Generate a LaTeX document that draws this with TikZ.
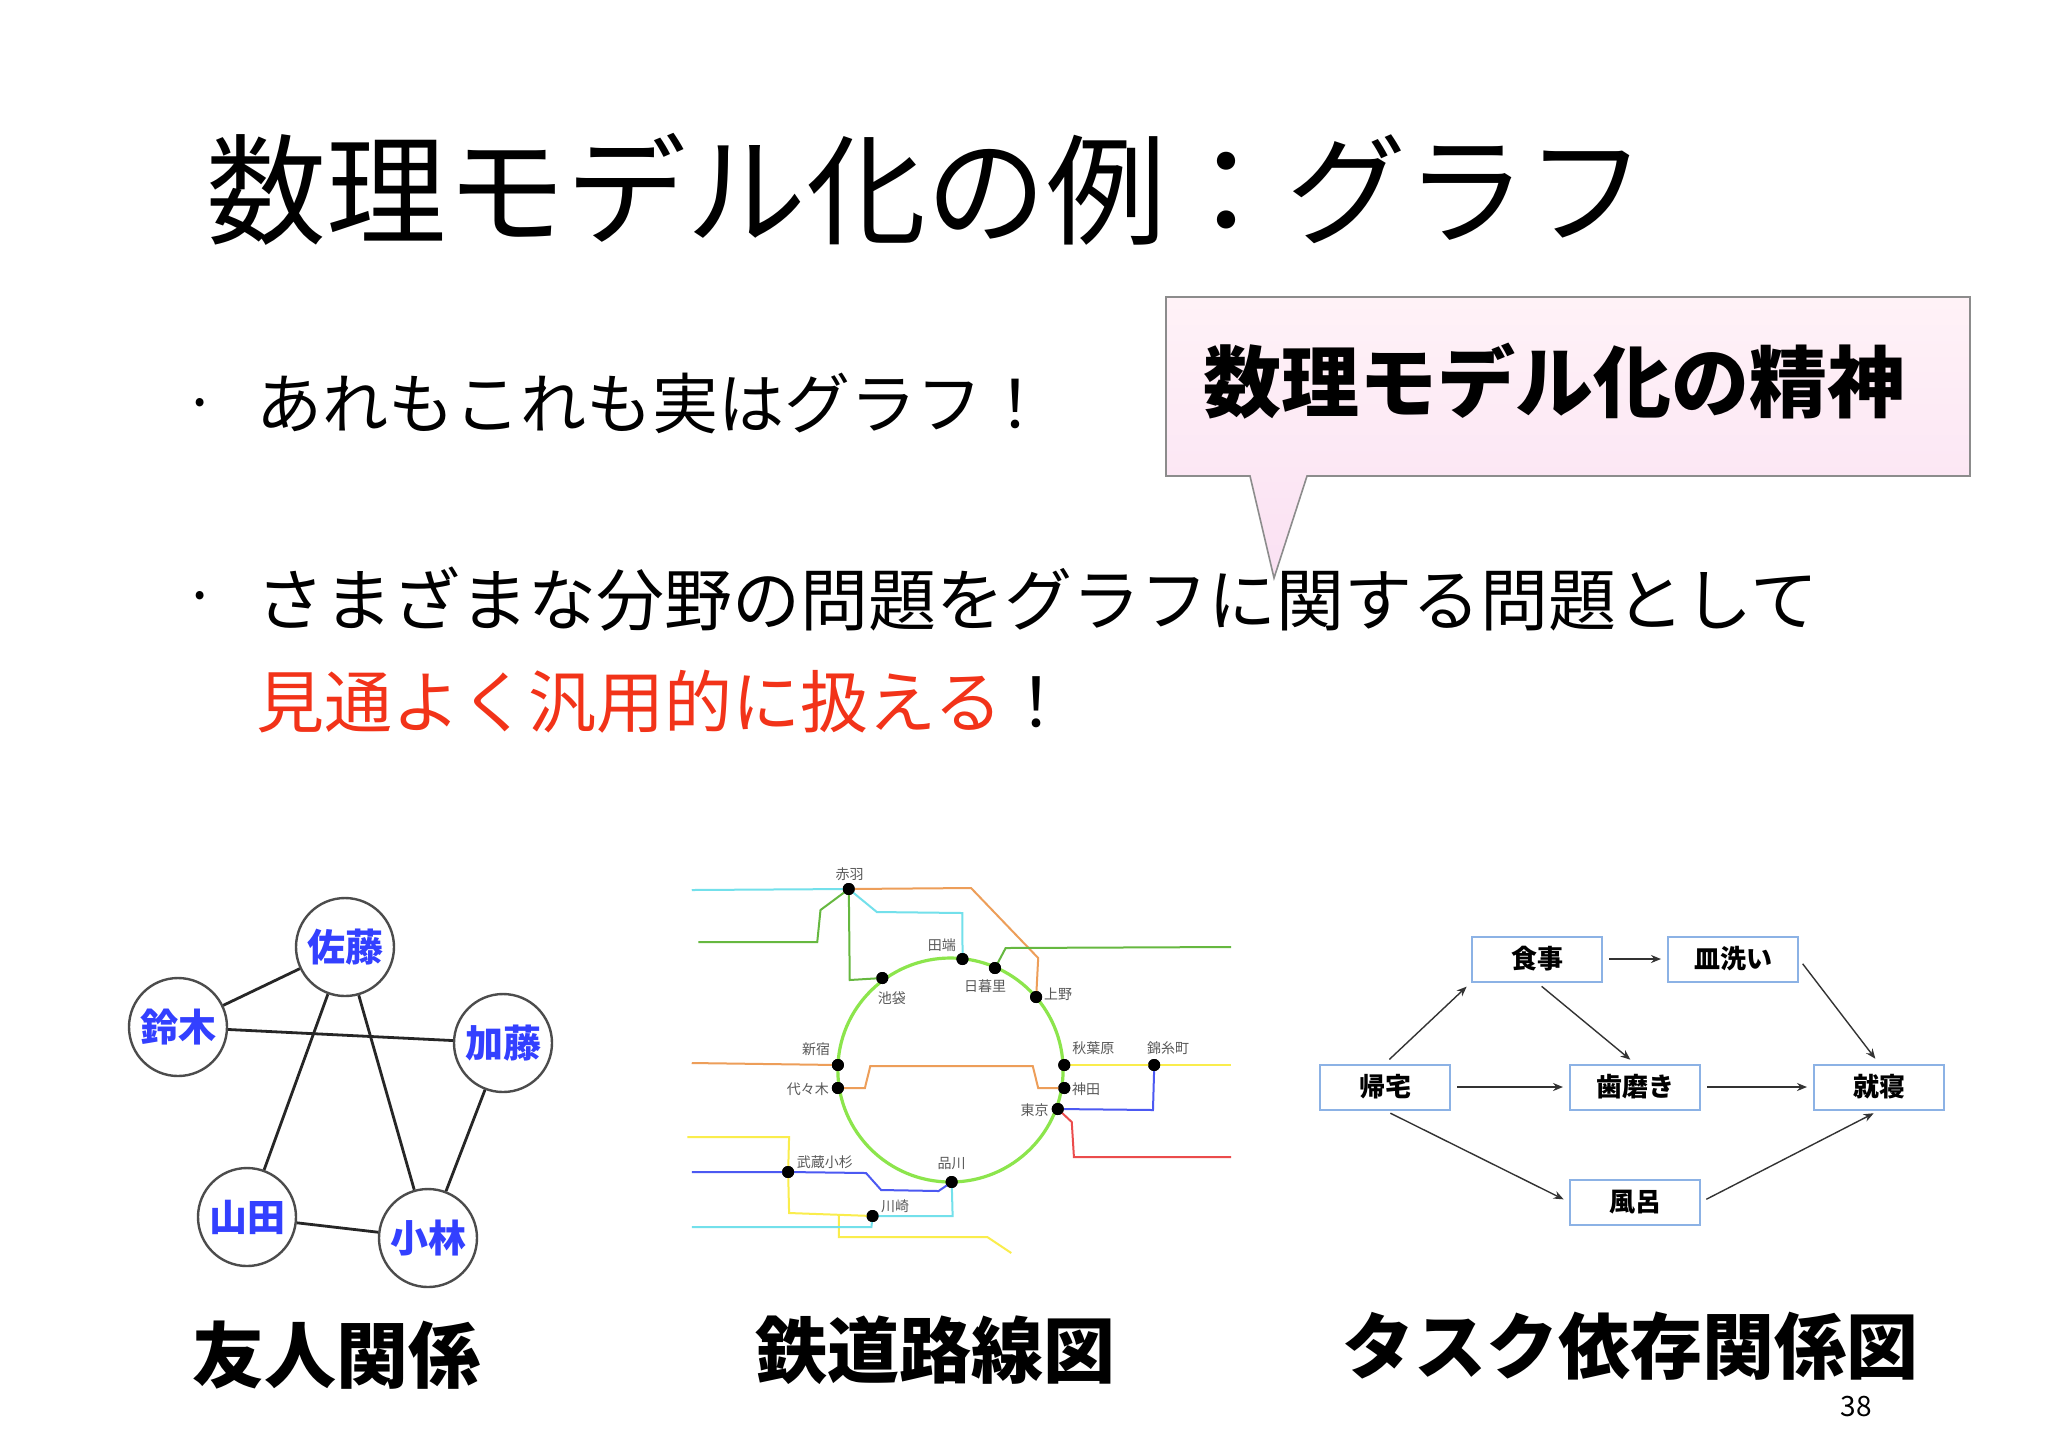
\documentclass[tikz,border=0pt]{standalone}
\usepackage{fontspec}
\setmainfont{Noto Sans CJK JP}
\usetikzlibrary{arrows.meta}
\definecolor{ring}{rgb}{0.55,0.9,0.3}
\definecolor{rgreen}{rgb}{0.4,0.72,0.25}
\definecolor{rcyan}{rgb}{0.45,0.88,0.92}
\definecolor{rorange}{rgb}{0.93,0.62,0.35}
\definecolor{ryellow}{rgb}{0.98,0.93,0.3}
\definecolor{rblue}{rgb}{0.3,0.35,0.95}
\definecolor{rred}{rgb}{0.92,0.3,0.3}
\definecolor{fblue}{rgb}{0.2,0.25,1}
\definecolor{tbox}{rgb}{0.55,0.7,0.9}
\definecolor{redtxt}{rgb}{0.95,0.2,0.1}
\definecolor{ptop}{rgb}{1,0.95,0.97}
\definecolor{pbot}{rgb}{0.98,0.88,0.95}
\tikzset{
  friend/.style={circle,draw=black!70,line width=1.2pt,minimum size=49pt,inner sep=0,font=\bfseries\fontsize{19}{19}\selectfont,text=fblue,fill=white},
  fedge/.style={line width=1.4pt,black!85},
  task/.style={draw=tbox,line width=1pt,minimum width=65pt,minimum height=22.5pt,inner sep=0,font=\bfseries\fontsize{13}{13}\selectfont,fill=white},
  tarr/.style={-{Stealth[length=5pt,width=4pt]},line width=0.7pt,black!80,shorten >=3pt,shorten <=3pt},
  stn/.style={circle,fill=black,inner sep=0,minimum size=6pt},
  slab/.style={font=\fontsize{7}{7}\selectfont,text=black!65,inner sep=0},
  rl/.style={line width=1pt},
  caption/.style={font=\bfseries\fontsize{36}{36}\selectfont,inner sep=0},
  body/.style={font=\fontsize{33}{33}\selectfont,inner sep=0,anchor=west}
}
\begin{document}
\begin{tikzpicture}[x=0.5pt,y=-0.5pt]
\useasboundingbox (0,0) rectangle (2048,1447);
\fill[white] (0,0) rectangle (2048,1447);
% title
\node[font=\fontsize{60}{60}\selectfont,inner sep=0,anchor=west] (title) at (206,189) {数理モデル化の例：グラフ};
% bullets
\node[font=\fontsize{30}{30}\selectfont,inner sep=0] (b1) at (200,411) {·};
\node[body] (t1) at (256,403) {あれもこれも実はグラフ！};
\node[font=\fontsize{30}{30}\selectfont,inner sep=0] (b2) at (200,604) {·};
\node[body,font=\fontsize{34}{34}\selectfont] (t2) at (256,599) {さまざまな分野の問題をグラフに関する問題として};
\node[body,font=\fontsize{34}{34}\selectfont] (t3) at (256,702) {\textcolor{redtxt}{見通よく汎用的に扱える}！};
% callout
\shade[top color=ptop,bottom color=pbot,draw=black!45,line width=0.8pt]
 (1166,297) -- (1970,297) -- (1970,476) -- (1307,476) -- (1274,578) -- (1250,476) -- (1166,476) -- cycle;
\node[font=\bfseries\fontsize{39}{39}\selectfont,inner sep=0] (spirit) at (1554,381) {数理モデル化の精神};
% friend graph
\node[friend] (sato) at (345,947) {佐藤};
\node[friend] (suzuki) at (178,1027) {鈴木};
\node[friend] (kato) at (503,1043) {加藤};
\node[friend] (yamada) at (247,1217) {山田};
\node[friend] (kobayashi) at (428,1238) {小林};
\draw[fedge] (sato) -- (suzuki);
\draw[fedge] (suzuki) -- (kato);
\draw[fedge] (sato) -- (yamada);
\draw[fedge] (sato) -- (kobayashi);
\draw[fedge] (kato) -- (kobayashi);
\draw[fedge] (yamada) -- (kobayashi);
\node[caption] (c1) at (336,1355) {友人関係};
% railway
\begin{scope}[xshift=-26.2pt,xscale=1.083]
\draw[ring,line width=1.6pt] (926,1070) ellipse [x radius=104,y radius=112];
\node[stn] (akabane) at (832,889) {};
\node[stn] (ikebukuro) at (863,978) {};
\node[stn] (tabata) at (937,959) {};
\node[stn] (nippori) at (967,968) {};
\node[stn] (ueno) at (1005,997) {};
\node[stn] (shinjuku) at (822,1065) {};
\node[stn] (yoyogi) at (822,1088) {};
\node[stn] (akiba) at (1031,1065) {};
\node[stn] (kinshi) at (1114,1065) {};
\node[stn] (kanda) at (1031,1088) {};
\node[stn] (tokyo) at (1025,1109) {};
\node[stn] (musashi) at (776,1172) {};
\node[stn] (shinagawa) at (927,1182) {};
\node[stn] (kawasaki) at (854,1216) {};
\coordinate (e1) at (687,890);
\coordinate (e2) at (693,942);
\coordinate (e3) at (1185,947);
\coordinate (e4) at (687,1063);
\coordinate (e5) at (1185,1065);
\coordinate (e6) at (1185,1157);
\coordinate (e7) at (683,1137);
\coordinate (e8) at (687,1172);
\coordinate (e9) at (687,1227);
\coordinate (e10) at (982,1253);
\begin{scope}[rl]
\draw[rcyan] (e1) -- (akabane.center) -- (858,912) -- (937,913) -- (tabata.center);
\draw[rorange] (akabane.center) -- (945,888) -- (1007,958) -- (ueno.center);
\draw[rgreen] (e2) -- (803,942) -- (806,910) -- (akabane.center) -- (833,980) -- (ikebukuro.center);
\draw[rgreen] (nippori.center) -- (977,948) -- (e3);
\draw[rorange] (e4) -- (shinjuku.center);
\draw[rorange] (yoyogi.center) -- (847,1088) -- (852,1066) -- (1002,1066) -- (1007,1088) -- (kanda.center);
\draw[ryellow] (akiba.center) -- (kinshi.center) -- (e5);
\draw[rblue] (kinshi.center) -- (1113,1110) -- (tokyo.center);
\draw[rred] (tokyo.center) -- (1038,1122) -- (1040,1157) -- (e6);
\draw[ryellow] (e7) -- (777,1137) -- (musashi.center) -- (777,1213) -- (kawasaki.center);
\draw[ryellow] (823,1214) -- (823,1237) -- (960,1237) -- (e10);
\draw[rblue] (e8) -- (musashi.center) -- (848,1173) -- (862,1190) -- (915,1191) -- (shinagawa.center);
\draw[rcyan] (shinagawa.center) -- (928,1216) -- (kawasaki.center) -- (853,1227) -- (e9);
\end{scope}
\foreach \s in {akabane,ikebukuro,tabata,nippori,ueno,shinjuku,yoyogi,akiba,kinshi,kanda,tokyo,musashi,shinagawa,kawasaki}
  \node[stn] at (\s) {};
\node[slab] (l1) at (833,874) {赤羽};
\node[slab] (l2) at (872,998) {池袋};
\node[slab] (l3) at (918,945) {田端};
\node[slab] (l4) at (958,986) {日暮里};
\node[slab,anchor=west] (l5) at (1012,994) {上野};
\node[slab] (l6) at (802,1049) {新宿};
\node[slab,anchor=east] (l7) at (814,1089) {代々木};
\node[slab] (l8) at (1058,1048) {秋葉原};
\node[slab] (l9) at (1127,1048) {錦糸町};
\node[slab,anchor=west] (l10) at (1038,1089) {神田};
\node[slab,anchor=east] (l11) at (1017,1110) {東京};
\node[slab] (l12) at (810,1162) {武蔵小杉};
\node[slab] (l13) at (927,1164) {品川};
\node[slab] (l14) at (875,1206) {川崎};
\end{scope}
\node[caption] (c2) at (935,1350) {鉄道路線図};
% task graph
\node[task] (shokuji) at (1537,959) {食事};
\node[task] (sara) at (1733,959) {皿洗い};
\node[task] (kitaku) at (1385,1087) {帰宅};
\node[task] (hamigaki) at (1635,1087) {歯磨き};
\node[task] (shushin) at (1879,1087) {就寝};
\node[task] (furo) at (1635,1202) {風呂};
\draw[tarr] (kitaku.north) -- (shokuji.south west);
\draw[tarr] (shokuji) -- (sara);
\draw[tarr] (shokuji.south) -- (hamigaki.north);
\draw[tarr] (kitaku) -- (hamigaki);
\draw[tarr] (hamigaki) -- (shushin);
\draw[tarr] (sara.east) -- (shushin.north);
\draw[tarr] (kitaku.south) -- (furo.west);
\draw[tarr] (furo.east) -- (shushin.south);
\node[caption] (c3) at (1630,1346) {タスク依存関係図};
\node[font=\fontsize{14}{14}\selectfont,inner sep=0] (pg) at (1856,1406) {38};
\end{tikzpicture}
\end{document}
